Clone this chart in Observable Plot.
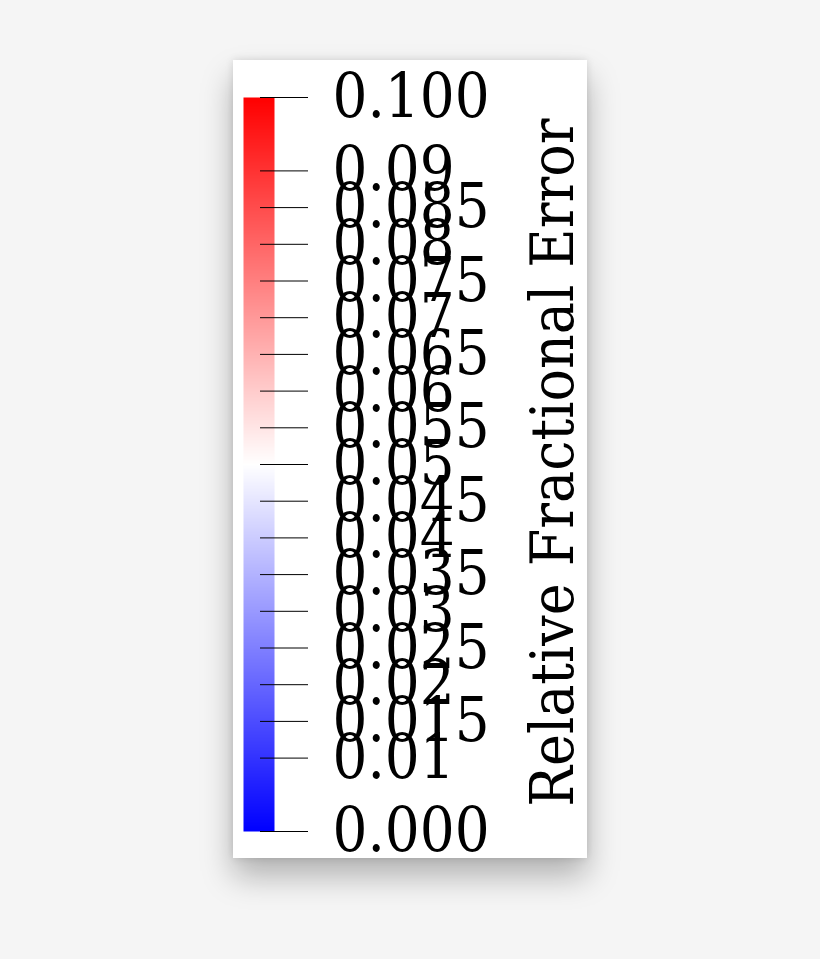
<!DOCTYPE html>
<html>
<head>
<meta charset="utf-8">
<script src="https://cdn.jsdelivr.net/npm/d3@7"></script>
<script src="https://cdn.jsdelivr.net/npm/@observablehq/plot@0.6"></script>
<style>
  html, body { margin: 0; padding: 0; background: #f5f5f5; }
  body { width: 820px; height: 959px; position: relative; overflow: hidden; }
  #panel {
    position: absolute; left: 233px; top: 60px; width: 354px; height: 798px;
    background: #ffffff;
    box-shadow: 0 18px 30px rgba(0,0,0,0.28), 0 0 8px rgba(0,0,0,0.12);
  }
  #panel svg { overflow: visible; display: block; }
</style>
</head>
<body>
<div id="panel"></div>
<script>
// Colorbar data
const colorDomain = [0, 0.05, 0.1];
const colorRange = ["#0000ff", "#ffffff", "#ff0000"];
const tickValues = [0, 0.01, 0.015, 0.02, 0.025, 0.03, 0.035, 0.04, 0.045, 0.05,
                    0.055, 0.06, 0.065, 0.07, 0.075, 0.08, 0.085, 0.09, 0.1];
const tickLabels = ["0.000", "0.01", "0.015", "0.02", "0.025", "0.03", "0.035", "0.04", "0.045", "0.05",
                    "0.055", "0.06", "0.065", "0.07", "0.075", "0.08", "0.085", "0.09", "0.100"];
const title = ["Relative Fractional Error"];

const labelOf = new Map(tickValues.map((v, i) => [v, tickLabels[i]]));
const font = "'DejaVu Serif Condensed', 'DejaVu Serif', serif";

const chart = Plot.plot({
  width: 354,
  height: 798,
  marginLeft: 10,
  marginRight: 328,
  marginTop: 37,
  marginBottom: 27,
  style: { background: "transparent", fontFamily: font, fontSize: "61px", color: "#000" },
  x: { domain: [0, 1], range: [10, 41], axis: null },
  y: { domain: [0, 0.1], axis: null },
  color: { type: "linear", domain: colorDomain, range: colorRange, interpolate: "rgb" },
  marks: [
    Plot.raster({ x1: 0, x2: 1, y1: 0, y2: 0.1, fill: (x, y) => y, pixelSize: 1, imageRendering: "auto" }),
    Plot.axisY(tickValues, {
      anchor: "right",
      tickSize: 48,
      tickPadding: 25,
      tickFormat: d => labelOf.get(d),
      fontSize: 61,
      fontFamily: font,
      stroke: "#000",
      fill: "#000",
      strokeWidth: 1,
      label: null
    }),
    Plot.text(title, {
      frameAnchor: "middle",
      rotate: -90,
      dx: 302,
      dy: -2,
      fontSize: 60,
      fontFamily: font,
      fill: "#000"
    })
  ]
});
document.getElementById("panel").appendChild(chart);
</script>
</body>
</html>
